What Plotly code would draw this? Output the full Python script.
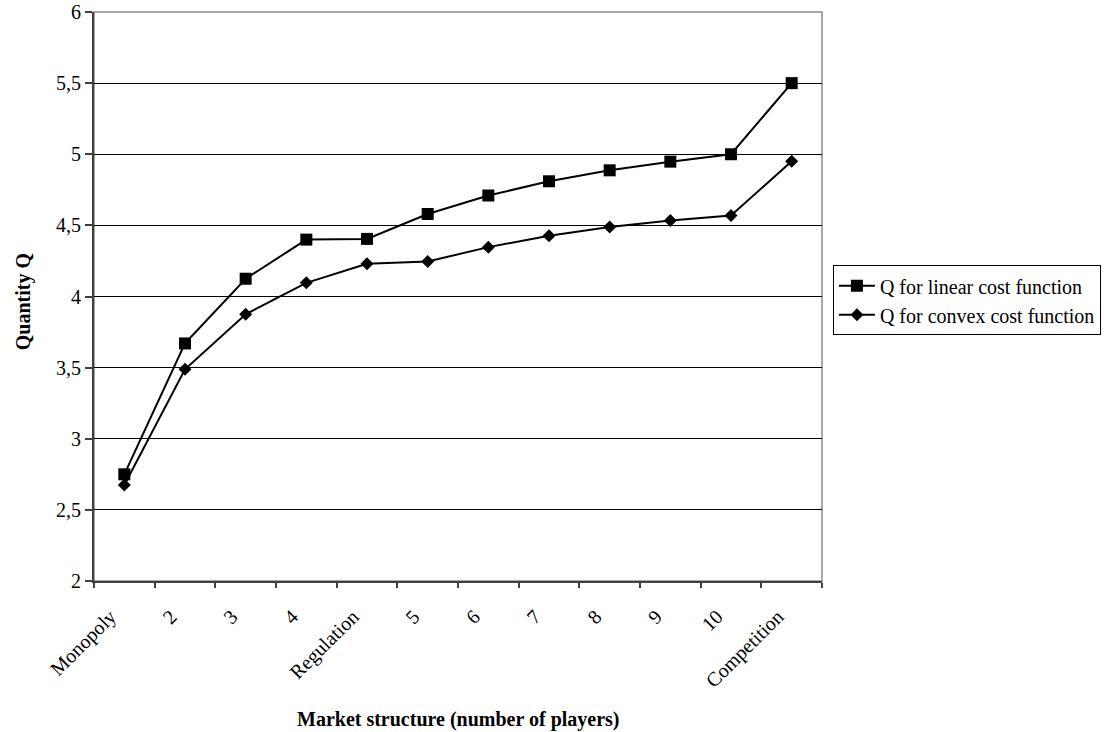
import plotly.graph_objects as go

categories = ["Monopoly", "2", "3", "4", "Regulation", "5", "6", "7", "8", "9", "10", "Competition"]
q_linear = [2.75, 3.67, 4.125, 4.40, 4.405, 4.58, 4.71, 4.81, 4.887, 4.948, 5.0, 5.5]
q_convex = [2.675, 3.488, 3.875, 4.096, 4.23, 4.246, 4.347, 4.427, 4.488, 4.535, 4.57, 4.95]
y_tickvals = [2, 2.5, 3, 3.5, 4, 4.5, 5, 5.5, 6]
y_ticktext = ["2", "2,5", "3", "3,5", "4", "4,5", "5", "5,5", "6"]

FONT = "Liberation Serif"

fig = go.Figure()
fig.add_trace(go.Scatter(
    x=categories, y=q_linear, mode="lines+markers", name="Q for linear cost function",
    line=dict(color="black", width=2),
    marker=dict(symbol="square", size=12, color="black"),
))
fig.add_trace(go.Scatter(
    x=categories, y=q_convex, mode="lines+markers", name="Q for convex cost function",
    line=dict(color="black", width=2),
    marker=dict(symbol="diamond", size=10, color="black"),
))

fig.update_layout(
    template="none",
    width=1105, height=732,
    margin=dict(l=94, r=283, t=12, b=151, autoexpand=False),
    paper_bgcolor="white", plot_bgcolor="white",
    font=dict(family=FONT, size=20, color="black"),
    showlegend=True,
    legend=dict(
        x=1.015, y=0.555, xanchor="left", yanchor="top",
        bordercolor="black", borderwidth=1, bgcolor="white",
        font=dict(family=FONT, size=20, color="black"),
        itemwidth=36,
    ),
    shapes=[dict(type="rect", xref="paper", yref="paper", x0=0, y0=0, x1=1, y1=1,
                 line=dict(color="#8c8c8c", width=1.5), layer="below")],
    annotations=[
        dict(text="<b>Market structure (number of players)</b>", xref="paper", yref="paper",
             x=0.5, y=-0.244, xanchor="center", yanchor="middle", showarrow=False,
             font=dict(family=FONT, size=20, color="black")),
        dict(text="<b>Quantity Q</b>", xref="paper", yref="paper",
             x=-0.0975, y=0.49, xanchor="center", yanchor="middle", showarrow=False,
             textangle=-90, font=dict(family=FONT, size=20, color="black")),
    ],
)
fig.update_xaxes(
    type="category", range=[-0.5, 11.5], automargin=False,
    tickson="boundaries", ticks="outside", ticklen=5, tickcolor="#404040", tickwidth=1.5,
    tickangle=-45, showgrid=False, showline=True, linecolor="#404040", linewidth=2,
    tickfont=dict(family=FONT, size=20, color="black"),
    ticklabelstandoff=14, ticklabelshift=-14,
    zeroline=False,
)
fig.update_yaxes(
    range=[2, 6], tickvals=y_tickvals, ticktext=y_ticktext, automargin=False,
    ticks="outside", ticklen=7, tickcolor="#404040", tickwidth=1.5,
    showgrid=True, gridcolor="black", gridwidth=1,
    showline=True, linecolor="#404040", linewidth=2,
    tickfont=dict(family=FONT, size=20, color="black"),
    zeroline=False,
)

fig.write_html("out.html")
